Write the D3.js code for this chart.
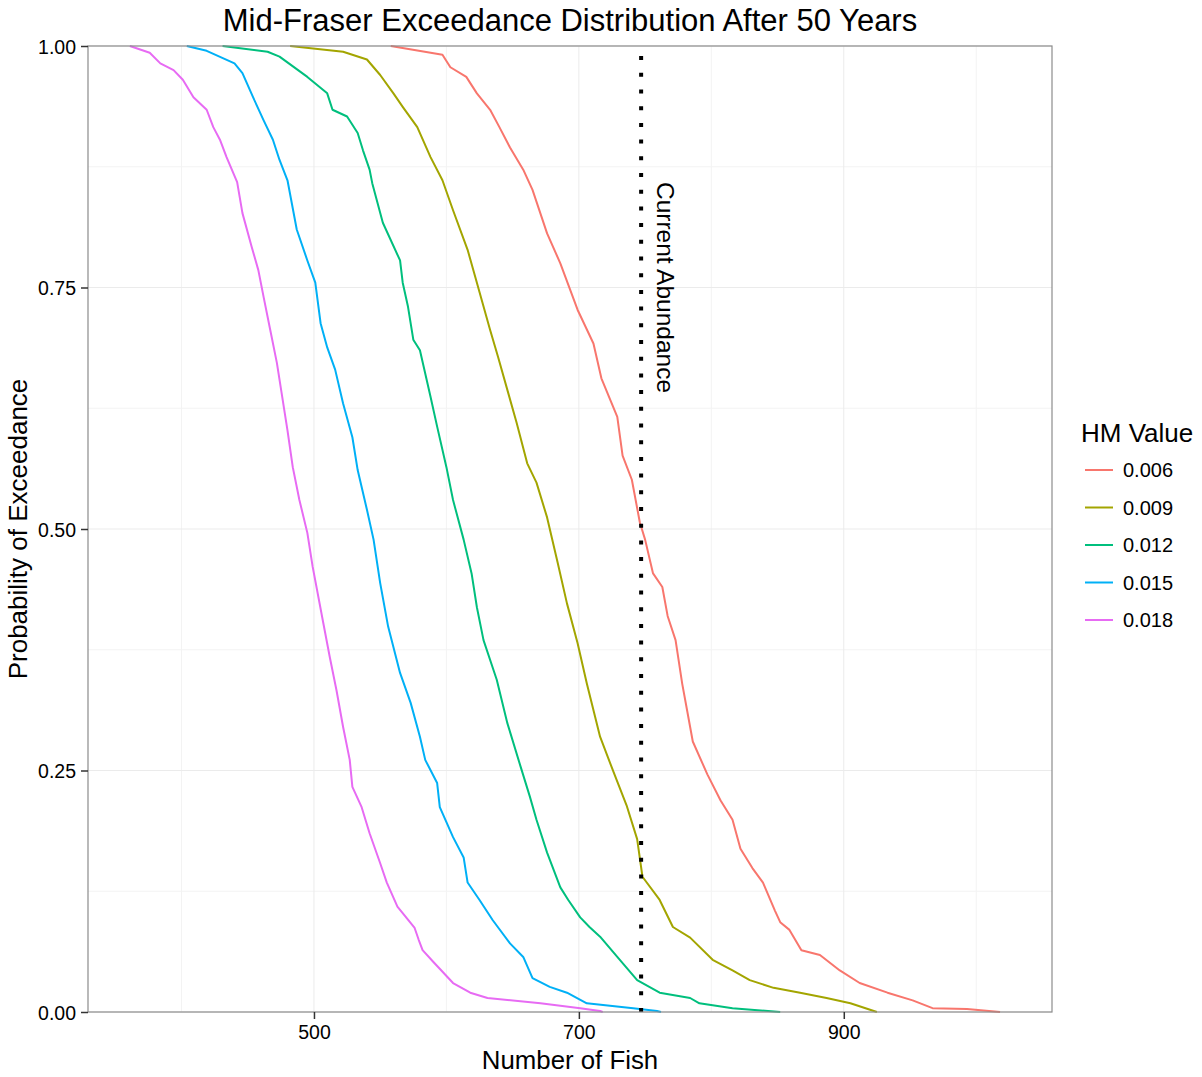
<!DOCTYPE html>
<html>
<head>
<meta charset="utf-8">
<script src="https://cdn.jsdelivr.net/npm/d3@7"></script>
<style>
  body { margin: 0; background: #fff; }
  text { font-family: "Liberation Sans", Arial, sans-serif; fill: #000; }
</style>
</head>
<body>
<script>
// exceedance curves: [number of fish, probability]
const hm006 = [[558,1],[597,0.991],[603,0.978],[615,0.968],[623,0.951],[633,0.934],[640,0.916],[648,0.895],[658,0.872],[665,0.851],[676,0.806],[686,0.775],[699,0.727],[711,0.692],[717,0.656],[729,0.616],[733,0.576],[740,0.551],[746,0.507],[750,0.489],[756,0.454],[763,0.44],[767,0.41],[773,0.385],[778,0.34],[782,0.31],[786,0.28],[797,0.246],[807,0.219],[816,0.199],[822,0.169],[831,0.149],[839,0.134],[848,0.105],[852,0.093],[859,0.085],[868,0.064],[882,0.059],[897,0.043],[912,0.03],[933,0.02],[952,0.012],[967,0.004],[993,0.003],[1018,0]];
const hm009 = [[482,1],[522,0.994],[540,0.986],[550,0.97],[560,0.951],[567,0.937],[578,0.916],[588,0.885],[597,0.861],[605,0.83],[616,0.789],[623,0.755],[633,0.706],[639,0.678],[646,0.644],[653,0.61],[661,0.568],[668,0.548],[676,0.512],[684,0.465],[691,0.423],[699,0.382],[706,0.34],[716,0.285],[726,0.249],[736,0.214],[744,0.179],[748,0.14],[761,0.116],[771,0.088],[784,0.077],[801,0.054],[816,0.043],[829,0.033],[847,0.025],[867,0.02],[887,0.0145],[905,0.009],[925,0]];
const hm012 = [[431,1],[465,0.994],[474,0.989],[495,0.968],[510,0.951],[514,0.934],[525,0.927],[533,0.91],[537,0.892],[542,0.872],[544,0.858],[552,0.817],[565,0.778],[567,0.755],[571,0.73],[575,0.696],[580,0.685],[588,0.637],[593,0.606],[600,0.564],[605,0.53],[613,0.489],[619,0.454],[623,0.419],[628,0.385],[638,0.344],[646,0.299],[656,0.254],[663,0.223],[668,0.199],[676,0.165],[686,0.129],[692,0.116],[701,0.098],[708,0.088],[716,0.078],[729,0.057],[744,0.033],[761,0.02],[784,0.0145],[791,0.009],[816,0.004],[852,0]];
const hm015 = [[404,1],[419,0.995],[440,0.982],[446,0.972],[454,0.947],[462,0.923],[469,0.903],[474,0.882],[480,0.861],[487,0.81],[495,0.778],[501,0.755],[505,0.713],[510,0.688],[516,0.665],[522,0.63],[529,0.595],[533,0.561],[540,0.52],[545,0.489],[550,0.444],[556,0.399],[565,0.351],[573,0.32],[580,0.285],[584,0.261],[593,0.237],[595,0.212],[605,0.181],[613,0.16],[616,0.134],[625,0.116],[635,0.095],[648,0.071],[658,0.057],[665,0.035],[678,0.026],[691,0.02],[706,0.009],[741,0.004],[759,0.001],[762,0]];
const hm018 = [[361,1],[376,0.993],[384,0.982],[394,0.975],[401,0.965],[409,0.947],[419,0.934],[424,0.916],[429,0.903],[434,0.885],[442,0.859],[446,0.827],[453,0.792],[458,0.768],[462,0.74],[467,0.706],[472,0.672],[476,0.637],[480,0.602],[484,0.564],[489,0.53],[495,0.496],[499,0.461],[507,0.403],[512,0.367],[517,0.333],[522,0.295],[527,0.261],[529,0.233],[536,0.212],[542,0.185],[550,0.154],[555,0.134],[563,0.109],[576,0.087],[579,0.075],[582,0.064],[590,0.052],[605,0.03],[618,0.02],[631,0.0145],[671,0.009],[701,0.004],[716,0.001],[718,0]];

const hmLabels = ["0.006", "0.009", "0.012", "0.015", "0.018"];
const hmColors = ["#F8766D", "#A3A500", "#00BF7D", "#00B0F6", "#E76BF3"];
const xTicks = [500, 700, 900];
const xMinor = [400, 600, 800, 1000];
const yTicks = [0, 0.25, 0.5, 0.75, 1];
const yMinor = [0.125, 0.375, 0.625, 0.875];
const currentAbundance = 747;

let series = [hm006, hm009, hm012, hm015, hm018];

let W = 1202, H = 1077;
let pLeft = 88, pRight = 1052, pTop = 46, pBottom = 1012;

let svg = d3.select("body").append("svg")
  .attr("width", W)
  .attr("height", H);

let x = d3.scaleLinear().domain([329.4, 1057.2]).range([pLeft, pRight]);
let y = d3.scaleLinear().domain([0, 1]).range([pBottom, pTop]);

//grid, minor first then major
svg.append("g").selectAll("line").data(xMinor).enter().append("line")
  .attr("x1", d => x(d)).attr("x2", d => x(d))
  .attr("y1", pTop).attr("y2", pBottom)
  .attr("stroke", "#F3F3F3").attr("stroke-width", 1);
svg.append("g").selectAll("line").data(yMinor).enter().append("line")
  .attr("x1", pLeft).attr("x2", pRight)
  .attr("y1", d => y(d)).attr("y2", d => y(d))
  .attr("stroke", "#F3F3F3").attr("stroke-width", 1);
svg.append("g").selectAll("line").data(xTicks).enter().append("line")
  .attr("x1", d => x(d)).attr("x2", d => x(d))
  .attr("y1", pTop).attr("y2", pBottom)
  .attr("stroke", "#EBEBEB").attr("stroke-width", 1);
svg.append("g").selectAll("line").data(yTicks).enter().append("line")
  .attr("x1", pLeft).attr("x2", pRight)
  .attr("y1", d => y(d)).attr("y2", d => y(d))
  .attr("stroke", "#EBEBEB").attr("stroke-width", 1);

//the curves
let line = d3.line().x(d => x(d[0])).y(d => y(d[1]));
svg.append("g").selectAll("path").data(series).enter().append("path")
  .attr("d", line)
  .attr("fill", "none")
  .attr("stroke", (d, i) => hmColors[i])
  .attr("stroke-width", 2)
  .attr("stroke-linejoin", "round");

//current abundance dotted line
svg.append("line")
  .attr("x1", x(currentAbundance)).attr("x2", x(currentAbundance))
  .attr("y1", y(0)).attr("y2", y(1))
  .attr("stroke", "#000")
  .attr("stroke-width", 4)
  .attr("stroke-dasharray", "4,12.7");

svg.append("text")
  .attr("transform", "translate(" + (x(currentAbundance) + 16) + "," + y(0.75) + ") rotate(90)")
  .attr("text-anchor", "middle")
  .attr("font-size", 24.5)
  .text("Current Abundance");

//panel border
svg.append("rect")
  .attr("x", pLeft).attr("y", pTop)
  .attr("width", pRight - pLeft).attr("height", pBottom - pTop)
  .attr("fill", "none")
  .attr("stroke", "#8C8C8C")
  .attr("stroke-width", 1.2);

//axes
let xAxis = svg.append("g")
  .attr("transform", "translate(0," + pBottom + ")")
  .call(d3.axisBottom(x).tickValues(xTicks).tickSize(7).tickPadding(6));
let yAxis = svg.append("g")
  .attr("transform", "translate(" + pLeft + ",0)")
  .call(d3.axisLeft(y).tickValues(yTicks).tickSize(7).tickPadding(5).tickFormat(d3.format(".2f")));

[xAxis, yAxis].forEach(function (a) {
  a.select(".domain").remove();
  a.selectAll(".tick line").attr("stroke", "#333").attr("stroke-width", 1.5);
  a.selectAll(".tick text")
    .attr("font-size", 19.5)
    .attr("font-family", "Liberation Sans, Arial, sans-serif")
    .attr("fill", "#000");
});
yAxis.selectAll(".tick text").attr("dy", "0.36em");

//titles
svg.append("text")
  .attr("x", (pLeft + pRight) / 2).attr("y", 31)
  .attr("text-anchor", "middle")
  .attr("font-size", 31)
  .text("Mid-Fraser Exceedance Distribution After 50 Years");

svg.append("text")
  .attr("x", (pLeft + pRight) / 2).attr("y", 1069)
  .attr("text-anchor", "middle")
  .attr("font-size", 25.8)
  .text("Number of Fish");

svg.append("text")
  .attr("transform", "translate(27," + (pTop + pBottom) / 2 + ") rotate(-90)")
  .attr("text-anchor", "middle")
  .attr("font-size", 26)
  .text("Probability of Exceedance");

//legend
let legend = svg.append("g");
legend.append("text")
  .attr("x", 1081).attr("y", 442)
  .attr("font-size", 26)
  .text("HM Value");

let keys = legend.selectAll("g.key").data(hmLabels).enter().append("g")
  .attr("class", "key")
  .attr("transform", (d, i) => "translate(0," + (470 + i * 37.5) + ")");
keys.append("line")
  .attr("x1", 1085).attr("x2", 1113)
  .attr("stroke", (d, i) => hmColors[i])
  .attr("stroke-width", 2);
keys.append("text")
  .attr("x", 1123).attr("dy", "0.36em")
  .attr("font-size", 20)
  .text(d => d);
</script>
</body>
</html>
